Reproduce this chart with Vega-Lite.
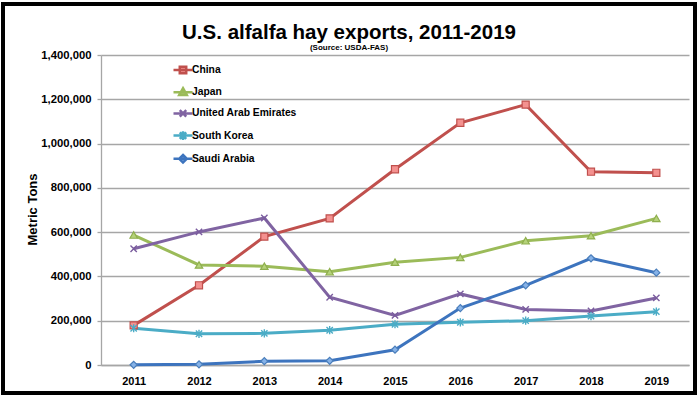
{
  "$schema": "https://vega.github.io/schema/vega-lite/v6.json",
  "width": 692,
  "height": 389,
  "autosize": {"type": "none"},
  "padding": {"left": 3, "top": 4, "right": 5, "bottom": 5},
  "background": "white",
  "config": {
    "view": {"stroke": "black", "strokeWidth": 4, "fill": "white"},
    "font": "Liberation Sans"
  },
  "title": {
    "text": "U.S. alfalfa hay exports, 2011-2019",
    "subtitle": "(Source: USDA-FAS)",
    "font": "Liberation Sans",
    "fontSize": 20.5,
    "fontWeight": "bold",
    "color": "black",
    "subtitleFont": "Liberation Sans",
    "subtitleFontSize": 8,
    "subtitleFontWeight": "bold",
    "subtitleColor": "black",
    "subtitlePadding": 1,
    "anchor": "middle",
    "frame": "group",
    "offset": -48
  },
  "data": {
    "values": [
      {"year": "2011", "country": "China", "tons": 179000},
      {"year": "2012", "country": "China", "tons": 360000},
      {"year": "2013", "country": "China", "tons": 580000},
      {"year": "2014", "country": "China", "tons": 662000},
      {"year": "2015", "country": "China", "tons": 884000},
      {"year": "2016", "country": "China", "tons": 1094000},
      {"year": "2017", "country": "China", "tons": 1176000},
      {"year": "2018", "country": "China", "tons": 873000},
      {"year": "2019", "country": "China", "tons": 868000},
      {"year": "2011", "country": "Japan", "tons": 587000},
      {"year": "2012", "country": "Japan", "tons": 452000},
      {"year": "2013", "country": "Japan", "tons": 446000},
      {"year": "2014", "country": "Japan", "tons": 421000},
      {"year": "2015", "country": "Japan", "tons": 464000},
      {"year": "2016", "country": "Japan", "tons": 486000},
      {"year": "2017", "country": "Japan", "tons": 561000},
      {"year": "2018", "country": "Japan", "tons": 584000},
      {"year": "2019", "country": "Japan", "tons": 662000},
      {"year": "2011", "country": "United Arab Emirates", "tons": 525000},
      {"year": "2012", "country": "United Arab Emirates", "tons": 601000},
      {"year": "2013", "country": "United Arab Emirates", "tons": 664000},
      {"year": "2014", "country": "United Arab Emirates", "tons": 306000},
      {"year": "2015", "country": "United Arab Emirates", "tons": 224000},
      {"year": "2016", "country": "United Arab Emirates", "tons": 321000},
      {"year": "2017", "country": "United Arab Emirates", "tons": 251000},
      {"year": "2018", "country": "United Arab Emirates", "tons": 244000},
      {"year": "2019", "country": "United Arab Emirates", "tons": 303000},
      {"year": "2011", "country": "South Korea", "tons": 166000},
      {"year": "2012", "country": "South Korea", "tons": 141000},
      {"year": "2013", "country": "South Korea", "tons": 143000},
      {"year": "2014", "country": "South Korea", "tons": 157000},
      {"year": "2015", "country": "South Korea", "tons": 184000},
      {"year": "2016", "country": "South Korea", "tons": 193000},
      {"year": "2017", "country": "South Korea", "tons": 200000},
      {"year": "2018", "country": "South Korea", "tons": 221000},
      {"year": "2019", "country": "South Korea", "tons": 241000},
      {"year": "2011", "country": "Saudi Arabia", "tons": 1000},
      {"year": "2012", "country": "Saudi Arabia", "tons": 3000},
      {"year": "2013", "country": "Saudi Arabia", "tons": 17000},
      {"year": "2014", "country": "Saudi Arabia", "tons": 19000},
      {"year": "2015", "country": "Saudi Arabia", "tons": 69000},
      {"year": "2016", "country": "Saudi Arabia", "tons": 257000},
      {"year": "2017", "country": "Saudi Arabia", "tons": 360000},
      {"year": "2018", "country": "Saudi Arabia", "tons": 482000},
      {"year": "2019", "country": "Saudi Arabia", "tons": 417000}
    ]
  },
  "encoding": {
    "x": {
      "field": "year",
      "type": "ordinal",
      "scale": {"type": "point", "range": [98, 686], "padding": 0.5},
      "axis": {
        "orient": "bottom",
        "offset": -28,
        "title": null,
        "ticks": false,
        "grid": false,
        "labelAngle": 0,
        "labelFont": "Liberation Sans",
        "labelFontSize": 11,
        "labelFontWeight": "bold",
        "labelColor": "black",
        "labelPadding": 10,
        "domainColor": "#A6A6A6",
        "domainWidth": 1.3
      }
    },
    "y": {
      "field": "tons",
      "type": "quantitative",
      "scale": {"domain": [0, 1400000], "range": [361, 51], "nice": false, "zero": true},
      "axis": {
        "orient": "left",
        "offset": -98,
        "values": [0, 200000, 400000, 600000, 800000, 1000000, 1200000, 1400000],
        "format": ",d",
        "labelFont": "Liberation Sans",
        "labelFontSize": 11.3,
        "labelFontWeight": "bold",
        "labelColor": "black",
        "labelPadding": 6,
        "tickSize": 4,
        "tickColor": "#A6A6A6",
        "tickWidth": 1.3,
        "domainColor": "#A6A6A6",
        "domainWidth": 1.3,
        "grid": true,
        "gridColor": "#A6A6A6",
        "gridWidth": 1.3,
        "title": "Metric Tons",
        "titleFont": "Liberation Sans",
        "titleFontSize": 13,
        "titleFontWeight": "bold",
        "titleColor": "black",
        "titleAngle": 270,
        "titleX": -62,
        "titleY": 205
      }
    }
  },
  "layer": [
    {
      "mark": {"type": "line", "strokeWidth": 3},
      "encoding": {
        "color": {
          "field": "country",
          "type": "nominal",
          "scale": {
            "domain": ["China", "Japan", "United Arab Emirates", "South Korea", "Saudi Arabia"],
            "range": ["#C0504D", "#9BBB59", "#8064A2", "#4BACC6", "#3D74BE"]
          },
          "legend": {
            "orient": "none",
            "legendX": 169,
            "legendY": 55,
            "padding": 0,
            "title": null,
            "symbolSize": 361,
            "symbolStrokeWidth": 2.5,
            "labelFont": "Liberation Sans",
            "labelFontSize": 10.3,
            "labelFontWeight": "bold",
            "labelColor": "black",
            "labelOffset": -2,
            "rowPadding": 2.2,
            "encode": {
              "symbols": {
                "update": {
                  "shape": {"signal": "datum.value === 'China' ? 'M-1,0H1M-0.34,-0.34H0.34V0.34H-0.34Z' : datum.value === 'Japan' ? 'M-1,0H1M0,-0.42L0.4,0.3L-0.4,0.3Z' : datum.value === 'United Arab Emirates' ? 'M-1,0H1M-0.34,-0.34L0.34,0.34M-0.34,0.34L0.34,-0.34' : datum.value === 'South Korea' ? 'M-1,0H1M-0.34,-0.34L0.34,0.34M-0.34,0.34L0.34,-0.34M0,-0.45L0,0.45' : 'M-1,0H1M0,-0.4L0.4,0L0,0.4L-0.4,0Z'"},
                  "fill": {"signal": "datum.value === 'China' ? '#F4918F' : datum.value === 'Japan' ? '#B5D27A' : datum.value === 'Saudi Arabia' ? '#86B2E8' : 'transparent'"},
                  "strokeWidth": {"value": 2.5}
                }
              }
            }
          }
        }
      }
    },
    {
      "transform": [{"filter": "datum.country === 'China'"}],
      "mark": {"type": "point", "shape": "square", "size": 50, "filled": true, "fill": "#F4918F", "stroke": "#C0504D", "strokeWidth": 1.2, "opacity": 1}
    },
    {
      "transform": [{"filter": "datum.country === 'Japan'"}],
      "mark": {"type": "point", "shape": "triangle-up", "size": 55, "filled": true, "fill": "#B5D27A", "stroke": "#8FAF4E", "strokeWidth": 1.2, "opacity": 1}
    },
    {
      "transform": [{"filter": "datum.country === 'United Arab Emirates'"}],
      "mark": {"type": "point", "shape": "M-1,-1L1,1M-1,1L1,-1", "size": 40, "filled": false, "stroke": "#7A5C9E", "strokeWidth": 1.4, "opacity": 1}
    },
    {
      "transform": [{"filter": "datum.country === 'South Korea'"}],
      "mark": {"type": "point", "shape": "M-1,-1L1,1M-1,1L1,-1M0,-1.3L0,1.3", "size": 40, "filled": false, "stroke": "#4BACC6", "strokeWidth": 1.4, "opacity": 1}
    },
    {
      "transform": [{"filter": "datum.country === 'Saudi Arabia'"}],
      "mark": {"type": "point", "shape": "diamond", "size": 50, "filled": true, "fill": "#86B2E8", "stroke": "#4A7EBB", "strokeWidth": 1.2, "opacity": 1}
    }
  ]
}
